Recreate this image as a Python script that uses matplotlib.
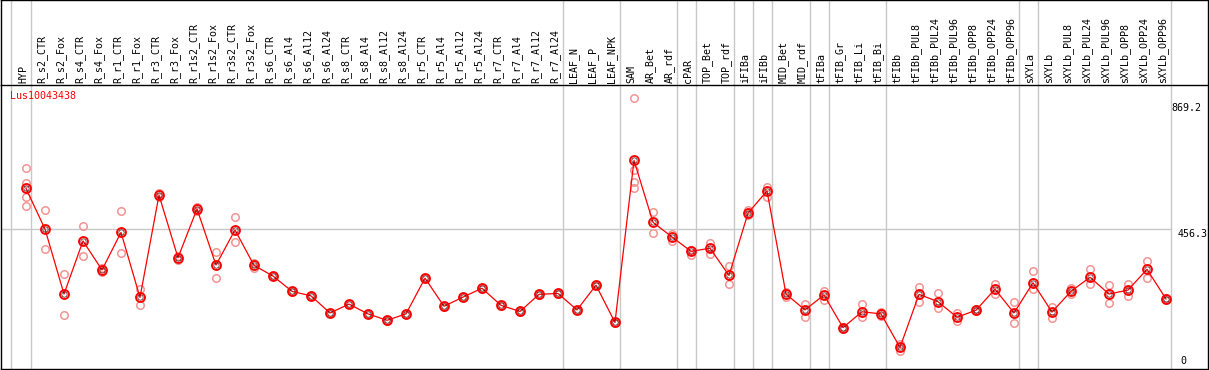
import numpy as np
import matplotlib
matplotlib.use("Agg")
import matplotlib.pyplot as plt

## Expression profile of one gene across tissues / treatments

gene = "Lus10043438"

samples = ["HYP", "R_s2_CTR", "R_s2_Fox", "R_s4_CTR", "R_s4_Fox", "R_r1_CTR", "R_r1_Fox",
           "R_r3_CTR", "R_r3_Fox", "R_r1s2_CTR", "R_r1s2_Fox", "R_r3s2_CTR", "R_r3s2_Fox",
           "R_s6_CTR", "R_s6_Al4", "R_s6_Al12", "R_s6_Al24", "R_s8_CTR", "R_s8_Al4",
           "R_s8_Al12", "R_s8_Al24", "R_r5_CTR", "R_r5_Al4", "R_r5_Al12", "R_r5_Al24",
           "R_r7_CTR", "R_r7_Al4", "R_r7_Al12", "R_r7_Al24", "LEAF_N", "LEAF_P", "LEAF_NPK",
           "SAM", "AR_Bet", "AR_rdf", "cPAR", "TOP_Bet", "TOP_rdf", "iFIBa", "iFIBb",
           "MID_Bet", "MID_rdf", "tFIBa", "tFIB_Gr", "tFIB_Li", "tFIB_Bi", "tFIBb",
           "tFIBb_PUL8", "tFIBb_PUL24", "tFIBb_PUL96", "tFIBb_OPP8", "tFIBb_OPP24",
           "tFIBb_OPP96", "sXYLa", "sXYLb", "sXYLb_PUL8", "sXYLb_PUL24", "sXYLb_PUL96",
           "sXYLb_OPP8", "sXYLb_OPP24", "sXYLb_OPP96"]

means = [589, 456, 243, 417, 322, 445, 232, 567, 362, 522, 338, 453, 337,
         302, 252, 237, 181, 210, 178, 157, 178, 295, 203, 233, 262,
         206, 186, 242, 245, 191, 272, 150,
         681, 478, 430, 383, 393, 304, 508, 581,
         243, 191, 240, 133, 185, 178, 68,
         242, 218, 167, 190, 259, 181,
         280, 184, 252, 298, 243, 256, 324, 227]

replicates = [[655, 606, 562, 532], [519, 391], [309, 173], [465, 367], [314, 328],
              [515, 376], [259, 206], [574, 561], [355, 368], [528, 515], [380, 295],
              [494, 413], [344, 327],
              [303, 301], [253, 251], [238, 236], [182, 180], [211, 209], [179, 177],
              [158, 156], [179, 177], [296, 294], [204, 202], [234, 232], [263, 261],
              [207, 205], [187, 185], [243, 241], [246, 244], [192, 190], [273, 271],
              [151, 149],
              [884, 649, 611, 589], [512, 442], [439, 417], [371, 387], [411, 373],
              [335, 275], [517, 502], [595, 562],
              [234, 250], [210, 169], [254, 223], [135, 130], [210, 169], [184, 171],
              [79, 57],
              [265, 218], [245, 196], [180, 155], [194, 186], [275, 242], [216, 147],
              [318, 259], [202, 164], [262, 243], [324, 275], [273, 213], [275, 237],
              [351, 295], [229, 224]]

# group separators: index of the last sample in each group
group_ends = [0, 28, 31, 34, 35, 37, 38, 39, 41, 42, 45, 52, 53, 60]

axis_max = 869.2
axis_mid = 456.3

x = np.arange(len(samples))
grey = "#c8c8c8"
mono = "DejaVu Sans Mono"

fig = plt.figure(figsize=(12.09, 3.70), dpi=100)
W, H = 1209, 370
xl = ((1 - 26) / 19, (1208 - 26) / 19)

# header with sample names
hdr = fig.add_axes([1 / W, (H - 85) / H, 1207 / W, 85 / H])
hdr.set_xlim(xl)
hdr.set_ylim(0, 85)
for i, s in enumerate(samples):
    hdr.text(i - 0.16, 2, s, rotation=90, ha="center", va="bottom",
             fontsize=7.2, family=mono)

ax = fig.add_axes([1 / W, 1 / H, 1207 / W, 284 / H])
ax.set_xlim(xl)
ax.set_ylim(-2.6, 928)

# vertical separators (through header and plot)
seps = [-0.8] + [e + 0.25 for e in group_ends]
for a in (hdr, ax):
    for s in seps:
        a.axvline(s, color=grey, lw=1.0, zorder=0)
ax.plot([xl[0], 60.25], [axis_mid, axis_mid], color=grey, lw=1.0, zorder=0)

for i, reps in enumerate(replicates):
    ax.plot([i] * len(reps), reps, "o", mfc="none", mec="#f39393", ms=5.4, mew=1.1, zorder=2)

ax.plot(x, means, color="red", lw=0.9, zorder=3)
ax.plot(x, means, "o", mfc="none", mec="red", ms=6.4, mew=1.4, zorder=4)
ax.plot(x, means, "o", mfc="none", mec="#300000", ms=3.8, mew=0.45, zorder=5)

ax.text(-0.85, 908, gene, color="red", fontsize=7.2, family=mono, va="top", ha="left")
ax.text(60.3, axis_max, "869.2", fontsize=7.2, family=mono, va="top", ha="left")
ax.text(60.6, axis_mid, "456.3", fontsize=7.2, family=mono, va="top", ha="left")
ax.text(60.75, 8, "0", fontsize=7.2, family=mono, va="bottom", ha="left")

for a in (hdr, ax):
    a.set_xticks([])
    a.set_yticks([])
    for sp in a.spines.values():
        sp.set_color("black")
        sp.set_linewidth(1.0)
hdr.spines["bottom"].set_visible(False)

fig.savefig("out.png", dpi=100)
